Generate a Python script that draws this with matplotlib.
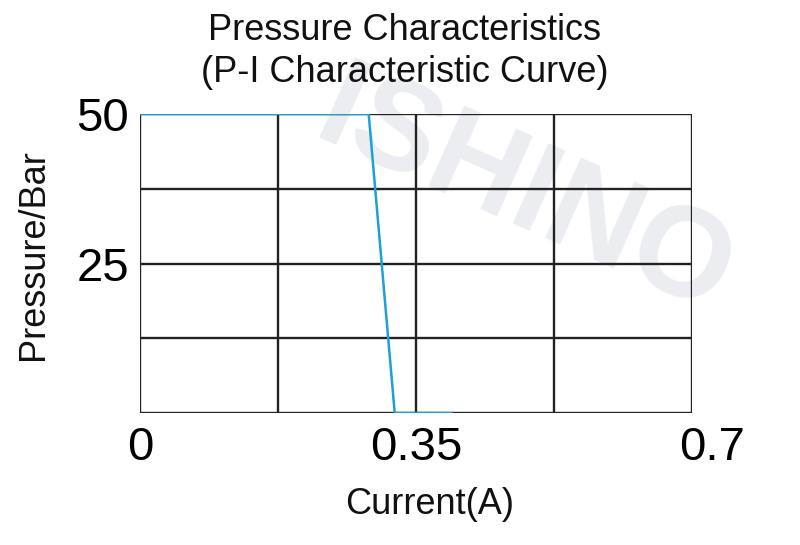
import matplotlib
matplotlib.use('Agg')
import matplotlib.pyplot as plt
import matplotlib.transforms as mtransforms

plt.rcParams['font.family'] = ['Liberation Sans', 'DejaVu Sans']

# P-I curve
current = [0.0, 0.29, 0.323, 0.395]
pressure = [50, 50, 0, 0]

x_ticks = [0, 0.35, 0.7]
x_labels = ['0', '0.35', '0.7']
y_ticks = [0, 12.5, 25, 37.5, 50]
y_labels = ['', '', '25', '', '50']
x_grid = [0, 0.175, 0.35, 0.525, 0.7]

fig = plt.figure(figsize=(8, 5.45), dpi=100)
ax = fig.add_axes([0.175, 0.2422, 0.69, 0.5486])
ax.set_zorder(1)
ax.patch.set_alpha(0)

# watermark
fig.text(0.655, 0.64, 'ISHINO', fontsize=92, fontweight='bold', color='#ecedf0',
         rotation=-24, ha='center', va='center', zorder=0)

for xv in x_grid:
    ax.axvline(xv, color='#222222', lw=1.7, zorder=1)
for yv in y_ticks:
    ax.axhline(yv, color='#222222', lw=1.7, zorder=1)

ax.plot(current, pressure, color='#1e9fd6', lw=1.8, zorder=3, solid_joinstyle='miter')

ax.set_xlim(0, 0.7)
ax.set_ylim(0, 50)
ax.set_xticks(x_ticks)
ax.set_xticklabels(x_labels, fontsize=34)
ax.set_yticks(y_ticks)
ax.set_yticklabels(y_labels, fontsize=34)
ax.tick_params(length=0, pad=8)
ax.tick_params(axis='x', pad=9)
for s in ax.spines.values():
    s.set_visible(False)

# last x label sits a bit to the right in the original
lbl = ax.get_xticklabels()[-1]
lbl.set_transform(lbl.get_transform() + mtransforms.ScaledTranslation(0.2, 0, fig.dpi_scale_trans))

fs = 26
fig.text(405 / 800, 1 - 30 / 545, 'Pressure Characteristics', fontsize=fs,
         ha='center', va='center', color='#111111')
fig.text(405 / 800, 1 - 72 / 545, '(P-I Characteristic Curve)', fontsize=fs,
         ha='center', va='center', color='#111111')
fig.text(430 / 800, 1 - 505 / 545, 'Current(A)', fontsize=fs,
         ha='center', va='center', color='#111111')
fig.text(34 / 800, 1 - 255 / 545, 'Pressure/Bar', fontsize=fs, rotation=90,
         ha='center', va='center', color='#111111')

fig.savefig('out.png', dpi=100)
